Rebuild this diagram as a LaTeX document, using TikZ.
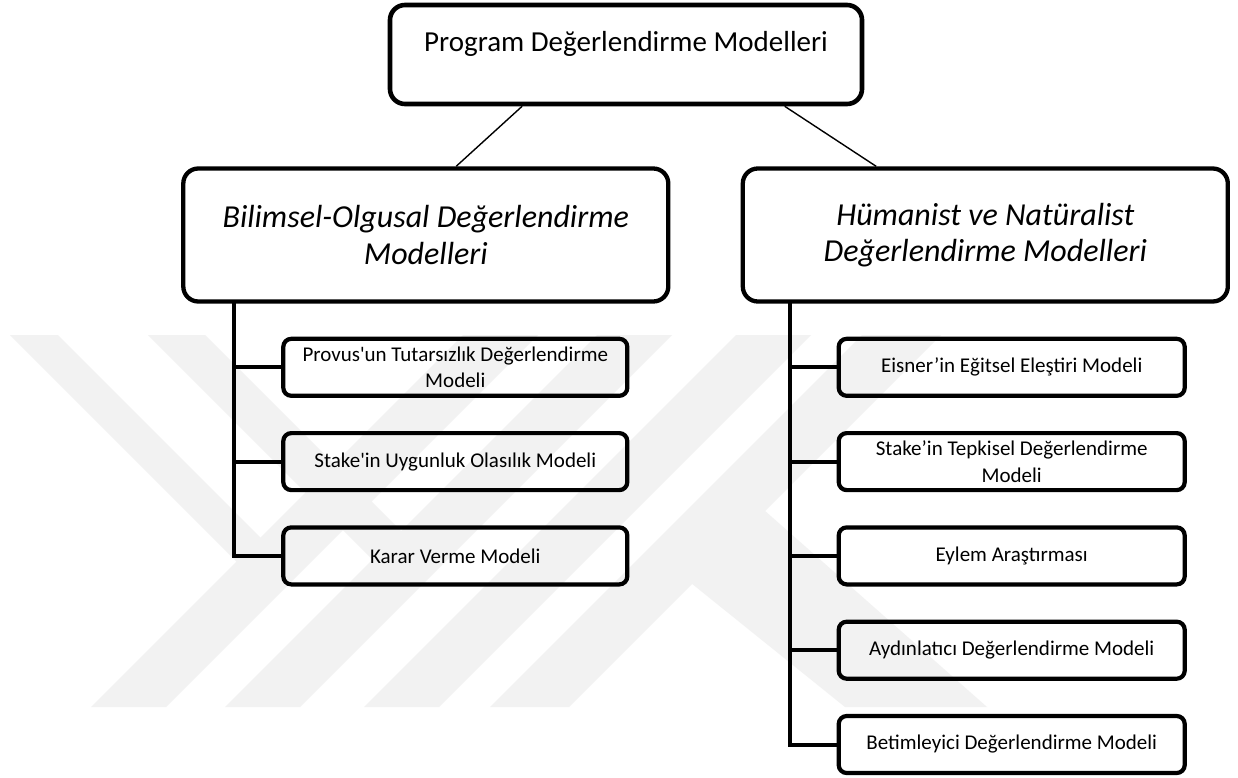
\documentclass[tikz,border=0pt]{standalone}
\usepackage{fontspec}
\setmainfont{Carlito}[Ligatures=TeXOff]
\usetikzlibrary{calc}
\begin{document}
\begin{tikzpicture}[x=1pt,y=-1pt,
  bigbox/.style={draw=black, line width=4.3pt, rounded corners=15pt, inner sep=0pt, align=center},
  childbox/.style={draw=black, line width=4.2pt, rounded corners=8pt, minimum height=57pt, inner sep=0pt, align=center, font=\fontsize{21}{26.5}\selectfont},
  tree/.style={line width=4pt},
  thinlink/.style={line width=1.4pt},
  wm/.style={fill=black!5, draw=none}]
\useasboundingbox (0,0) rectangle (1238,778);
\fill[white] (0,0) rectangle (1238,778);
% watermark
\fill[wm] (10,335) -- (58,335) -- (290,567) -- (242,567) -- cycle;
\fill[wm] (148,335) -- (205,335) -- (430,560) -- (373,560) -- cycle;
\fill[wm] (91,707) -- (166,707) -- (538,335) -- (463,335) -- cycle;
\fill[wm] (225,707) -- (300,707) -- (672,335) -- (597,335) -- cycle;
\fill[wm] (364,707) -- (439,707) -- (811,335) -- (736,335) -- cycle;
\fill[wm] (490,707) -- (569,707) -- (941,335) -- (862,335) -- cycle;
\fill[wm] (730,480) -- (987,707) -- (845,707) -- (650,550) -- cycle;
% top
\node[bigbox, line width=4.6pt, minimum width=472pt, minimum height=99pt,
  font=\fontsize{29}{35}\selectfont, text height=21pt, text depth=26pt]
  (top) at (626,54.5) {Program Değerlendirme Modelleri};
% middle
\node[bigbox, minimum width=485pt, minimum height=133pt,
  font=\fontsize{32}{36.7}\selectfont\itshape]
  (L) at (425.8,235) {Bilimsel-Olgusal Değerlendirme\\Modelleri};
\node[bigbox, minimum width=485pt, minimum height=133pt,
  font=\fontsize{32}{36.7}\selectfont\itshape]
  (R) at (985.3,235) {Hümanist ve Natüralist\\Değerlendirme Modelleri};
\draw[thinlink] ($(top.south west)!0.282!(top.south east)$) -- ($(L.north west)!0.562!(L.north east)$);
\draw[thinlink] ($(top.south west)!0.833!(top.south east)$) -- ($(R.north west)!0.277!(R.north east)$);
% left children
\node[childbox, minimum width=344pt] (l1) at (455.3,367.3) {Provus'un Tutarsızlık Değerlendirme\\Modeli};
\node[childbox, minimum width=344pt] (l2) at (455.3,461.6) {Stake'in Uygunluk Olasılık Modeli};
\node[childbox, minimum width=344pt] (l3) at (455.3,555.9) {Karar Verme Modeli};
% right children
\node[childbox, minimum width=346pt] (r1) at (1011.7,367.3) {Eisner’in Eğitsel Eleştiri Modeli};
\node[childbox, minimum width=346pt] (r2) at (1011.7,461.6) {Stake’in Tepkisel Değerlendirme\\Modeli};
\node[childbox, minimum width=346pt] (r3) at (1011.7,555.9) {Eylem Araştırması};
\node[childbox, minimum width=346pt] (r4) at (1011.7,650.2) {Aydınlatıcı Değerlendirme Modeli};
\node[childbox, minimum width=346pt] (r5) at (1011.7,744.5) {Betimleyici Değerlendirme Modeli};
% trunks
\coordinate (lt) at (233.5,301.5);
\draw[tree] (lt) |- (l3.west);
\draw[tree] (lt |- l1.west) -- (l1.west);
\draw[tree] (lt |- l2.west) -- (l2.west);
\coordinate (rt) at (790,301.5);
\draw[tree] (rt) |- (r5.west);
\draw[tree] (rt |- r1.west) -- (r1.west);
\draw[tree] (rt |- r2.west) -- (r2.west);
\draw[tree] (rt |- r3.west) -- (r3.west);
\draw[tree] (rt |- r4.west) -- (r4.west);
\end{tikzpicture}
\end{document}
